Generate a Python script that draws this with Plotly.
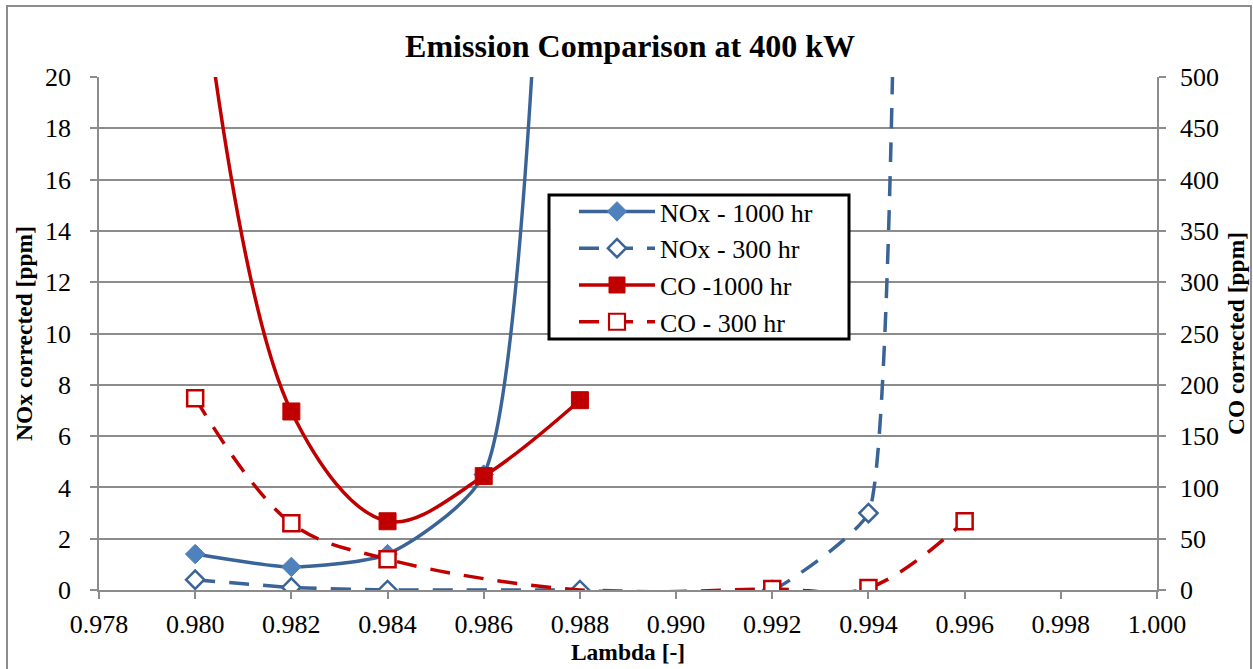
import plotly.graph_objects as go

# Data
nox_1000_x = [0.980, 0.982, 0.984, 0.986, 0.988]
nox_1000_y = [1.4, 0.9, 1.4, 4.5, 80.0]

nox_300_x = [0.980, 0.982, 0.984, 0.988, 0.992, 0.994, 0.996]
nox_300_y = [0.4, 0.1, 0.0, 0.0, 0.0, 3.0, 1000.0]

co_1000_x = [0.980, 0.982, 0.984, 0.986, 0.988]
co_1000_y = [650, 174, 67, 111, 185]

co_300_x = [0.980, 0.982, 0.984, 0.988, 0.992, 0.994, 0.996]
co_300_y = [187, 65, 30, 0, 1, 2, 67]
co_300_marker_shown = [True, True, True, False, True, True, True]

x_ticks = [0.978 + 0.002 * i for i in range(12)]

BLUE = "#3A6397"
BLUE_L = "#4F81BD"
RED = "#C00000"
FONT = "'Times New Roman', 'Liberation Serif', 'DejaVu Serif', serif"

fig = go.Figure()

fig.add_trace(go.Scatter(
    x=nox_1000_x, y=nox_1000_y, name="NOx - 1000 hr", mode="lines+markers",
    line=dict(color=BLUE, width=3.5, shape="spline", smoothing=0.6),
    marker=dict(symbol="diamond", size=15, color=BLUE_L, line=dict(color=BLUE_L, width=1)),
    yaxis="y"))

fig.add_trace(go.Scatter(
    x=nox_300_x, y=nox_300_y, name="NOx - 300 hr", mode="lines+markers",
    line=dict(color=BLUE, width=3.5, shape="spline", smoothing=0.35, dash="20px,14px"),
    marker=dict(symbol="diamond", size=14, color="white", line=dict(color=BLUE, width=2.5)),
    yaxis="y"))

fig.add_trace(go.Scatter(
    x=co_1000_x, y=co_1000_y, name="CO -1000 hr", mode="lines+markers",
    line=dict(color=RED, width=3.5, shape="spline", smoothing=1.0),
    marker=dict(symbol="square", size=17, color=RED, line=dict(color=RED, width=1)),
    yaxis="y2"))

fig.add_trace(go.Scatter(
    x=co_300_x, y=co_300_y, name="CO - 300 hr", mode="lines+markers",
    line=dict(color=RED, width=3.5, shape="spline", smoothing=1.0, dash="20px,14px"),
    marker=dict(symbol="square", size=16,
                color=["white" if s else "rgba(0,0,0,0)" for s in co_300_marker_shown],
                line=dict(color=RED, width=[2.5 if s else 0 for s in co_300_marker_shown])),
    yaxis="y2"))

axis_common = dict(
    showline=True, linecolor="#8C8C8C", linewidth=1.5,
    ticks="outside", tickcolor="#8C8C8C", ticklen=7, tickwidth=1.5,
    tickfont=dict(family=FONT, size=26, color="black"),
    zeroline=False, automargin=False,
)
title_font = dict(family=FONT, size=23.5, color="black")

fig.update_layout(
    width=1253, height=669,
    paper_bgcolor="white", plot_bgcolor="white",
    margin=dict(l=99, r=96, t=77, b=79),
    title=dict(text="<b>Emission Comparison at 400 kW</b>", x=630 / 1253, xanchor="center",
               y=1 - 46 / 669, yanchor="middle",
               font=dict(family=FONT, size=32, color="black")),
    xaxis=dict(range=[0.978, 1.000], tickvals=x_ticks, tickformat=".3f", showgrid=False,
               ticklabelstandoff=3,
               title=dict(text="<b>Lambda [-]</b>", font=title_font, standoff=4),
               **axis_common),
    yaxis=dict(range=[0, 20], dtick=2, showgrid=True, gridcolor="#8C8C8C", gridwidth=1.5,
               ticklabelstandoff=14,
               title=dict(text="<b>NOx corrected [ppm]</b>", font=title_font, standoff=6),
               **axis_common),
    yaxis2=dict(range=[0, 500], dtick=50, overlaying="y", side="right", showgrid=False,
                ticklabelstandoff=9,
                title=dict(text="<b>CO corrected [ppm]</b>", font=title_font, standoff=10),
                **axis_common),
    legend=dict(x=(574 - 99) / 1058, y=(590 - 188) / 513, xanchor="left", yanchor="top",
                bgcolor="rgba(0,0,0,0)", borderwidth=0,
                font=dict(family=FONT, size=26, color="black"),
                itemwidth=76, tracegroupgap=0),
    showlegend=True,
)

# legend frame
fig.add_shape(type="rect", xref="paper", yref="paper",
              x0=(549 - 99) / 1058, x1=(849 - 99) / 1058,
              y0=(590 - 339) / 513, y1=(590 - 195) / 513,
              line=dict(color="black", width=3), fillcolor="white", layer="above")

# outer chart frame
fig.add_shape(type="rect", xref="paper", yref="paper",
              x0=(7 - 99) / 1058, x1=(1251 - 99) / 1058,
              y0=(590 - 680) / 513, y1=(590 - 6) / 513,
              line=dict(color="#8C8C8C", width=2), fillcolor="rgba(0,0,0,0)", layer="below")

fig.write_html("out.html", config={"displayModeBar": False},
               post_script="document.body.style.margin='0px';")
